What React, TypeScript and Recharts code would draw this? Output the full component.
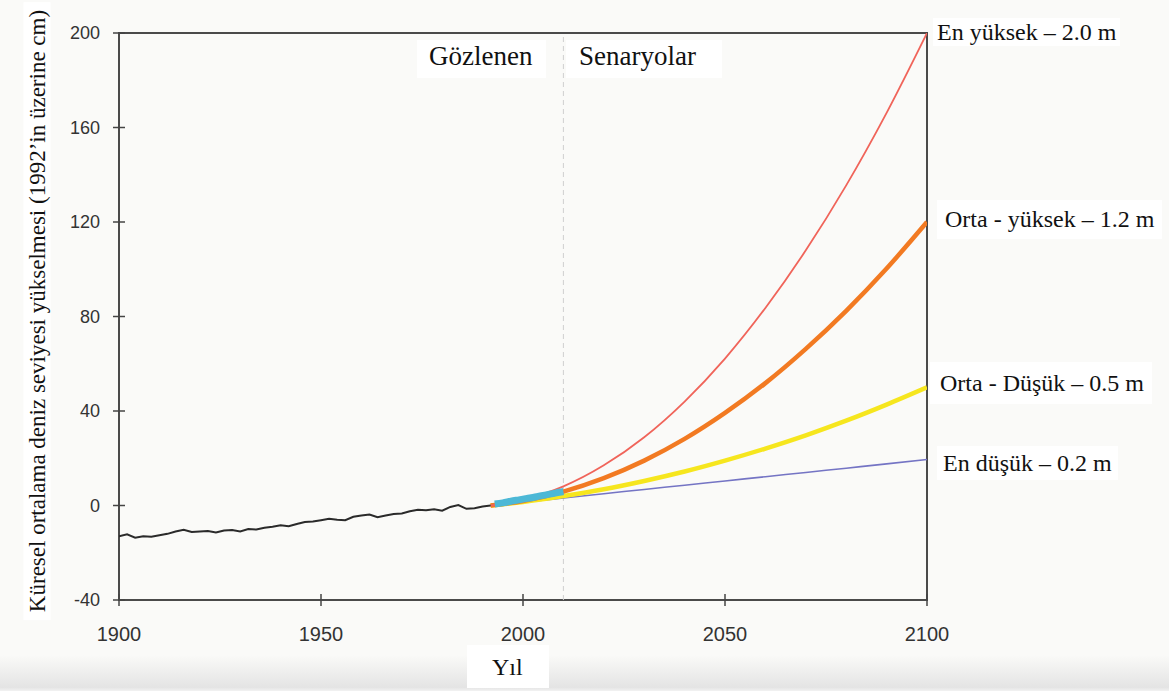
import React from "react";
import {LineChart, Line, XAxis, YAxis, ReferenceLine, ReferenceArea} from "recharts";

// observed tide-gauge record (cm, relative to 1992)
const observedYears = [1900, 1902, 1904, 1906, 1908, 1910, 1912, 1914, 1916, 1918, 1920, 1922, 1924, 1926, 1928, 1930, 1932, 1934, 1936, 1938, 1940, 1942, 1944, 1946, 1948, 1950, 1952, 1954, 1956, 1958, 1960, 1962, 1964, 1966, 1968, 1970, 1972, 1974, 1976, 1978, 1980, 1982, 1984, 1986, 1988, 1990, 1992]
const observedLevels = [-13.0, -12.2, -13.6, -13.0, -13.2, -12.6, -12.0, -11.0, -10.3, -11.2, -11.0, -10.8, -11.4, -10.6, -10.4, -11.0, -10.0, -10.2, -9.4, -9.0, -8.4, -8.8, -7.8, -7.0, -6.8, -6.2, -5.6, -6.0, -6.2, -4.8, -4.2, -3.8, -5.0, -4.2, -3.6, -3.4, -2.4, -1.8, -2.0, -1.6, -2.2, -0.6, 0.2, -1.4, -1.2, -0.4, 0.0]

// satellite altimetry
const satelliteYears = [1993, 1995, 1997, 1999, 2001, 2003, 2005, 2007, 2009, 2010]
const satelliteLevels = [0.6, 1.1, 1.8, 2.4, 3.0, 3.6, 4.3, 4.9, 5.6, 5.9]

// scenarios
const scenarioYears = [1992, 2000, 2010, 2020, 2030, 2040, 2050, 2060, 2070, 2080, 2090, 2100]
const highest = [0, 2.4, 8.1, 17.0, 28.9, 44.0, 62.2, 83.6, 108.0, 135.5, 166.2, 200]
const intermediateHigh = [0, 1.9, 5.9, 11.6, 19.0, 28.2, 39.2, 51.8, 66.3, 82.4, 100.3, 120]
const intermediateLow = [0, 1.5, 4.0, 6.9, 10.4, 14.4, 19.0, 24.1, 29.7, 35.9, 42.7, 50]
const lowest = [0, 1.4, 3.2, 5.0, 6.8, 8.6, 10.4, 12.2, 14.0, 15.8, 17.6, 19.5]

const yearTicks = [1900, 1950, 2000, 2050, 2100]
const levelTicks = [-40, 0, 40, 80, 120, 160, 200]

const toPoints = (years: number[], values: number[]) => years.map((year, i) => ({year, v: values[i]}))

const serif = '"Liberation Serif", "Times New Roman", serif'
const sans = '"Liberation Sans", Arial, sans-serif'

const YTick = (props: any) => {
    const {x, y, payload} = props
    const axisX = x + 19
    return <g>
        <line x1={axisX - 6} x2={axisX + 6} y1={y} y2={y} stroke="#444" strokeWidth={1.5}/>
        <text x={x} y={y} dy="0.355em" textAnchor="end" fontFamily={sans} fontSize={18} fill="#333">{payload.value}</text>
    </g>
}

const XTick = (props: any) => {
    const {x, y, payload} = props
    const axisY = y - 27
    return <g>
        <line x1={x} x2={x} y1={axisY - 6} y2={axisY + 6} stroke="#444" strokeWidth={1.5}/>
        <text x={x} y={y} dy="0.71em" textAnchor="middle" fontFamily={sans} fontSize={20} fill="#333">{payload.value}</text>
    </g>
}

const Note: React.FC<{left: number, top: number, size: number, pad?: string, children: React.ReactNode}> = ({left, top, size, pad = "2px 4px", children}) =>
    <div style={{
        position: 'absolute', left, top, fontFamily: serif, fontSize: size, lineHeight: 1,
        whiteSpace: 'nowrap', background: '#fff', padding: pad, color: '#111'
    }}>{children}</div>

export default function App() {
    return <div style={{position: 'absolute', left: 0, top: 0, width: 1169, height: 691, background: '#fafaf8', overflow: 'hidden'}}>
        <div style={{position: 'absolute', left: 0, top: 655, width: 1169, height: 36, background: 'linear-gradient(#fafaf8, #e4e4e4 90%, #f2f2f2)'}}/>
        <LineChart width={1169} height={691} margin={{top: 33, right: 242, left: 19, bottom: 51}} style={{position: 'absolute', left: 0, top: 0}}>
            <XAxis type="number" dataKey="year" domain={[1900, 2100]} ticks={yearTicks} height={40}
                   axisLine={false} tickLine={false} tickSize={6} tickMargin={21} tick={<XTick/>} allowDataOverflow/>
            <YAxis type="number" domain={[-40, 200]} ticks={levelTicks} width={100}
                   axisLine={false} tickLine={false} tickSize={6} tickMargin={13} tick={<YTick/>} allowDataOverflow/>
            <ReferenceArea x1={1900} x2={2100} y1={-40} y2={200} fill="none" stroke="#4a4a4a" strokeWidth={2}/>
            <ReferenceLine x={2010} stroke="#cfcfcf" strokeDasharray="5 4" strokeWidth={1}/>
            <Line data={toPoints(scenarioYears, lowest)} dataKey="v" type="monotone" stroke="#7474c4" strokeWidth={1.6} dot={false} isAnimationActive={false}/>
            <Line data={toPoints(scenarioYears, intermediateLow)} dataKey="v" type="monotone" stroke="#f6e61e" strokeWidth={4.5} dot={false} isAnimationActive={false}/>
            <Line data={toPoints(scenarioYears, intermediateHigh)} dataKey="v" type="monotone" stroke="#f27a22" strokeWidth={4.5} dot={false} isAnimationActive={false}/>
            <Line data={toPoints(scenarioYears, highest)} dataKey="v" type="monotone" stroke="#f0645a" strokeWidth={1.8} dot={false} isAnimationActive={false}/>
            <Line data={toPoints(observedYears, observedLevels)} dataKey="v" type="linear" stroke="#2a2a2a" strokeWidth={2} dot={false} isAnimationActive={false}/>
            <Line data={toPoints(satelliteYears, satelliteLevels)} dataKey="v" type="monotone" stroke="#4cb8d6" strokeWidth={7} dot={false} isAnimationActive={false}/>
        </LineChart>
        <Note left={417} top={40} size={27} pad="3px 14px 8px 12px">Gözlenen</Note>
        <Note left={566} top={40} size={27} pad="3px 26px 8px 13px">Senaryolar</Note>
        <Note left={933} top={18} size={24} pad="2px 4px">En yüksek – 2.0 m</Note>
        <Note left={937} top={200} size={24} pad="7px 8px 8px 8px">Orta - yüksek – 1.2 m</Note>
        <Note left={930} top={362} size={24} pad="9px 8px 9px 10px">Orta - Düşük – 0.5 m</Note>
        <Note left={937} top={446} size={24} pad="5px 6px">En düşük – 0.2 m</Note>
        <Note left={467} top={645} size={24} pad="10px 26px 9px 25px">Yıl</Note>
        <div style={{
            position: 'absolute', left: 37, top: 311, transform: 'translate(-50%, -50%) rotate(-90deg)',
            fontFamily: serif, fontSize: 23, lineHeight: 1, whiteSpace: 'nowrap', background: '#fff',
            padding: '2px 8px', color: '#111'
        }}>Küresel ortalama deniz seviyesi yükselmesi (1992’in üzerine cm)</div>
    </div>
}
